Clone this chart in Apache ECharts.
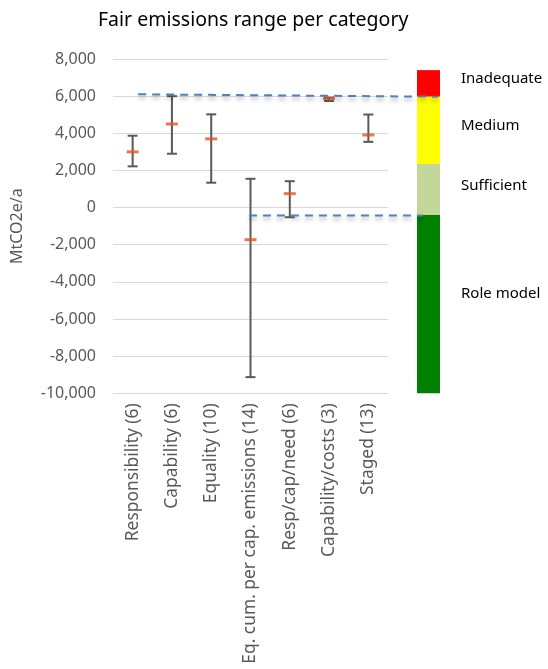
<!DOCTYPE html>
<html>
<head>
<meta charset="utf-8">
<script src="https://cdn.jsdelivr.net/npm/echarts@6/dist/echarts.min.js"></script>
<style>html,body{margin:0;padding:0;background:#fff}#c{width:548px;height:669px}</style>
</head>
<body>
<div id="c"></div>
<script>
var categories = ['Responsibility (6)', 'Capability (6)', 'Equality (10)', 'Eq. cum. per cap. emissions (14)', 'Resp/cap/need (6)', 'Capability/costs (3)', 'Staged (13)'];
var lows  = [2220, 2900, 1340, -9130, -520, 5740, 3540];
var highs = [3870, 6000, 5020, 1550, 1420, 5920, 5010];
var means = [3000, 4500, 3700, -1730, 750, 5870, 3910];
var yTicks = { min: -10000, max: 8000, interval: 2000 };
var zoneNames = ['Inadequate', 'Medium', 'Sufficient', 'Role model'];
var zoneBounds = [7400, 5970, 2340, -400, -10000];
var zoneColors = ['#ff0000', '#ffff00', '#c4d79b', '#008000'];
var upperLine = [[0.14, 6100], [7.77, 5970]];
var lowerLine = [[2.96, -430], [7.39, -430]];

var FONT = 'Noto Sans';
var chart = echarts.init(document.getElementById('c'), null, { renderer: 'canvas' });

var labelShift = [-5, -5, -4, -10];
var markAreaData = zoneNames.map(function (n, i) {
  return [{ name: n, yAxis: zoneBounds[i], itemStyle: { color: zoneColors[i] }, label: { offset: [0, labelShift[i]] } }, { yAxis: zoneBounds[i + 1] }];
});

var option = {
  animation: false,
  textStyle: { fontFamily: FONT },
  title: {
    text: 'Fair emissions range per category',
    left: 93, top: 5,
    textStyle: { fontFamily: FONT, fontSize: 19.5, fontWeight: 'normal', color: '#000' }
  },
  grid: [
    { left: 113, top: 59, width: 275, height: 334.3 },
    { left: 417, top: 59, width: 23, height: 334.3 },
    { left: 113, top: 59, width: 327, height: 334.3 }
  ],
  xAxis: [
    {
      gridIndex: 0, type: 'category', data: categories,
      axisLine: { show: false }, axisTick: { show: false },
      axisLabel: { rotate: 90, interval: 0, color: '#595959', fontSize: 17.4, fontFamily: FONT, margin: 10 }
    },
    { gridIndex: 1, type: 'value', min: 0, max: 1, show: false },
    { gridIndex: 2, type: 'value', min: -0.5, max: 7.824, show: false }
  ],
  yAxis: [
    {
      gridIndex: 0, type: 'value', min: yTicks.min, max: yTicks.max, interval: yTicks.interval,
      name: 'MtCO2e/a', nameLocation: 'middle', nameGap: 88,
      nameTextStyle: { color: '#595959', fontSize: 16, fontFamily: FONT },
      axisLine: { show: false }, axisTick: { show: false },
      axisLabel: {
        color: '#595959', fontSize: 16, fontFamily: FONT, margin: 17,
        formatter: function (v) { return v.toLocaleString('en-US'); }
      },
      splitLine: { lineStyle: { color: '#d9d9d9', width: 1 } }
    },
    { gridIndex: 1, type: 'value', min: yTicks.min, max: yTicks.max, show: false },
    { gridIndex: 2, type: 'value', min: yTicks.min, max: yTicks.max, show: false }
  ],
  series: [
    {
      type: 'line', xAxisIndex: 1, yAxisIndex: 1, data: [], silent: true,
      markArea: {
        silent: true,
        label: { show: true, position: 'right', distance: 21, color: '#000', fontSize: 15, fontFamily: FONT },
        data: markAreaData
      }
    },
    {
      type: 'custom', xAxisIndex: 0, yAxisIndex: 0, z: 3,
      data: categories.map(function (c, i) { return [i, lows[i], highs[i]]; }),
      renderItem: function (params, api) {
        var x = api.value(0);
        var pLo = api.coord([x, api.value(1)]);
        var pHi = api.coord([x, api.value(2)]);
        var st = { stroke: '#595959', lineWidth: 2 };
        var w = 5;
        return {
          type: 'group',
          children: [
            { type: 'line', shape: { x1: pLo[0], y1: pLo[1], x2: pHi[0], y2: pHi[1] }, style: st },
            { type: 'line', shape: { x1: pLo[0] - w, y1: pLo[1], x2: pLo[0] + w, y2: pLo[1] }, style: st },
            { type: 'line', shape: { x1: pHi[0] - w, y1: pHi[1], x2: pHi[0] + w, y2: pHi[1] }, style: st }
          ]
        };
      }
    },
    {
      type: 'scatter', xAxisIndex: 0, yAxisIndex: 0, z: 4,
      symbol: 'rect', symbolSize: [12, 3],
      itemStyle: { color: '#e8521e' },
      data: means
    },
    {
      type: 'line', xAxisIndex: 2, yAxisIndex: 2, z: 5, symbol: 'none',
      lineStyle: { color: '#4f81bd', width: 2, type: [8, 6], shadowColor: 'rgba(0,0,0,0.35)', shadowBlur: 4, shadowOffsetY: 3 },
      data: upperLine
    },
    {
      type: 'line', xAxisIndex: 2, yAxisIndex: 2, z: 5, symbol: 'none',
      lineStyle: { color: '#4f81bd', width: 2, type: [8, 6], shadowColor: 'rgba(0,0,0,0.35)', shadowBlur: 4, shadowOffsetY: 3 },
      data: lowerLine
    }
  ]
};
chart.setOption(option);
</script>
</body>
</html>
